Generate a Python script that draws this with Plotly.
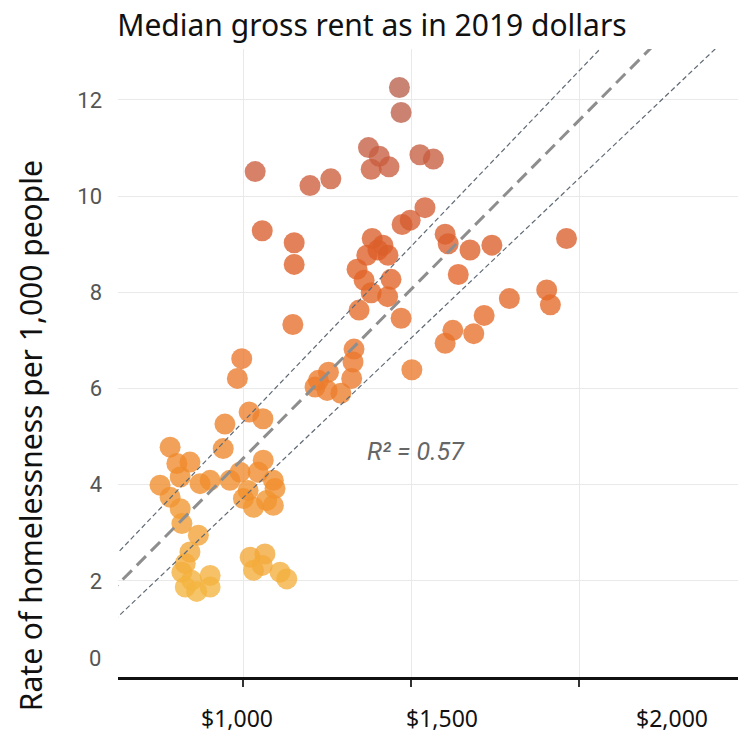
import numpy as np
import plotly.graph_objects as go

# ---- data ----
rent = [1465, 1470, 1373, 1405, 1434, 1381, 1526, 1566, 1036, 1199, 1261, 1057, 1152, 1152,
        1541, 1473, 1497, 1384, 1401, 1431, 1416, 1368, 1339, 1360, 1440, 1381, 1430, 1345,
        1470, 1148, 1601, 1610, 1675, 1740, 1640, 1962, 1903, 1914, 1792, 1717, 1624, 1601,
        1686, 1502, 1330, 1327, 1323, 1291, 1254, 1224, 1214, 1250,
        996, 983, 1018, 1059, 946, 941, 783, 842, 803, 813, 753, 872, 902, 783, 813, 818,
        867, 842, 828, 818, 847, 902, 902, 828, 862,
        961, 991, 1060, 1090, 1095, 1070, 1001, 1031, 1090, 1045, 1015, 1021, 1065, 1031,
        1110, 1130, 1057]

homeless_rate = [12.26, 11.74, 11.01, 10.83, 10.61, 10.56, 10.86, 10.77, 10.51, 10.22, 10.36,
                 9.28, 9.03, 8.58, 9.76, 9.41, 9.50, 9.12, 8.88, 8.77, 8.98, 8.77, 8.48, 8.25,
                 8.27, 7.99, 7.91, 7.63, 7.46, 7.33, 9.21, 9.01, 8.88, 8.98, 8.37, 9.12, 8.05,
                 7.74, 7.87, 7.52, 7.21, 6.94, 7.14, 6.39, 6.82, 6.55, 6.21, 5.90, 6.34, 6.17,
                 6.03, 5.96,
                 6.62, 6.21, 5.51, 5.37, 5.26, 4.75, 4.78, 4.47, 4.44, 4.16, 3.99, 4.02, 4.09,
                 3.74, 3.50, 3.19, 2.95, 2.60, 2.36, 2.18, 2.01, 2.11, 1.87, 1.87, 1.78,
                 4.09, 4.26, 4.51, 4.09, 3.92, 3.67, 3.71, 3.53, 3.57, 4.26, 3.88, 2.49, 2.56,
                 2.22, 2.18, 2.04, 2.32]

assert len(rent) == len(homeless_rate)

# regression line and band (slope, intercept)
fit_x = [600, 2500]
fit_mid = (0.007036, -2.49)
fit_upper = (0.007305, -2.00)
fit_lower = (0.006647, -2.92)
r_squared_label = "R² = 0.57"

x_tick_vals = [1000, 1500, 2000]
x_tick_text = ["$1,000", "$1,500", "$2,000"]
y_tick_vals = [0, 2, 4, 6, 8, 10, 12]

title_text = "Median gross rent as in 2019 dollars"
y_title_text = "Rate of homelessness per 1,000 people"

FONT = "Noto Sans"

fig = go.Figure()

fig.add_trace(go.Scatter(
    x=rent, y=homeless_rate, mode="markers",
    marker=dict(
        size=21, opacity=0.78, line=dict(width=0),
        color=homeless_rate, cmin=1.5, cmax=12.5, showscale=False,
        colorscale=[[0.0, "#F4BA42"], [0.22, "#F08E2C"], [0.45, "#EB782C"],
                    [0.65, "#DF5F26"], [0.8, "#CD5E3C"], [1.0, "#B5604E"]],
    ),
    hoverinfo="skip", showlegend=False,
))

fx = np.array(fit_x, dtype=float)
for (m, b), width, dash, color in [
    (fit_upper, 1.2, "5px,3px", "#5f6a75"),
    (fit_lower, 1.2, "5px,3px", "#5f6a75"),
    (fit_mid, 3, "13px,7px", "#8e8e8e"),
]:
    fig.add_trace(go.Scatter(
        x=fx, y=m * fx + b, mode="lines",
        line=dict(width=width, dash=dash, color=color),
        hoverinfo="skip", showlegend=False,
    ))

fig.update_layout(
    width=738, height=739,
    margin=dict(l=118, r=0, t=49, b=62),
    paper_bgcolor="white", plot_bgcolor="white",
    hovermode=False,
    title=dict(text=title_text, x=0.504, xanchor="center", y=0.966, yanchor="middle",
               font=dict(family=FONT, size=30, color="#111")),
    xaxis=dict(range=[628, 2472], tickvals=x_tick_vals, ticktext=["", "", ""],
               showgrid=True, gridcolor="#e9e9e9", gridwidth=1, zeroline=False,
               showline=True, linecolor="#111", linewidth=3,
               ticks="outside", ticklen=7, tickwidth=1.5, tickcolor="#333"),
    yaxis=dict(range=[0, 13.06], tickvals=y_tick_vals,
               ticktext=[""] + [str(v) for v in y_tick_vals[1:]],
               showgrid=True, gridcolor="#e9e9e9", gridwidth=1, zeroline=False,
               showline=False, ticks="", ticklabelstandoff=15,
               tickfont=dict(family="Roboto", size=22, color="#555")),
)

# x tick labels (placed as in the reference)
for frac, txt in zip([0.192, 0.5226, 0.8935], x_tick_text):
    fig.add_annotation(x=frac, xref="paper", y=-0.066, yref="paper", text=txt,
                       showarrow=False, xanchor="center", yanchor="middle",
                       font=dict(family=FONT, size=23, color="#111"))

# "0" label sits a little above the axis line in the reference
fig.add_annotation(x=0, xref="paper", y=0, yref="y", text="0", showarrow=False,
                   xanchor="right", yanchor="middle", xshift=-15, yshift=19,
                   font=dict(family="Roboto", size=22, color="#555"))

# y axis title
fig.add_annotation(x=-0.142, xref="paper", y=0.385, yref="paper", text=y_title_text,
                   textangle=-90, showarrow=False, xanchor="center", yanchor="middle",
                   font=dict(family=FONT, size=30, color="#111"))

# R² label
fig.add_annotation(x=1514, y=4.69, text="<i>" + r_squared_label + "</i>", showarrow=False,
                   xanchor="center", yanchor="middle",
                   font=dict(family="Roboto", size=25, color="#666"))

# remove the default 8px page margin so the figure fills the window exactly
fig.write_html("out.html", config={"displayModeBar": False},
               post_script="document.body.style.margin='0px';")
